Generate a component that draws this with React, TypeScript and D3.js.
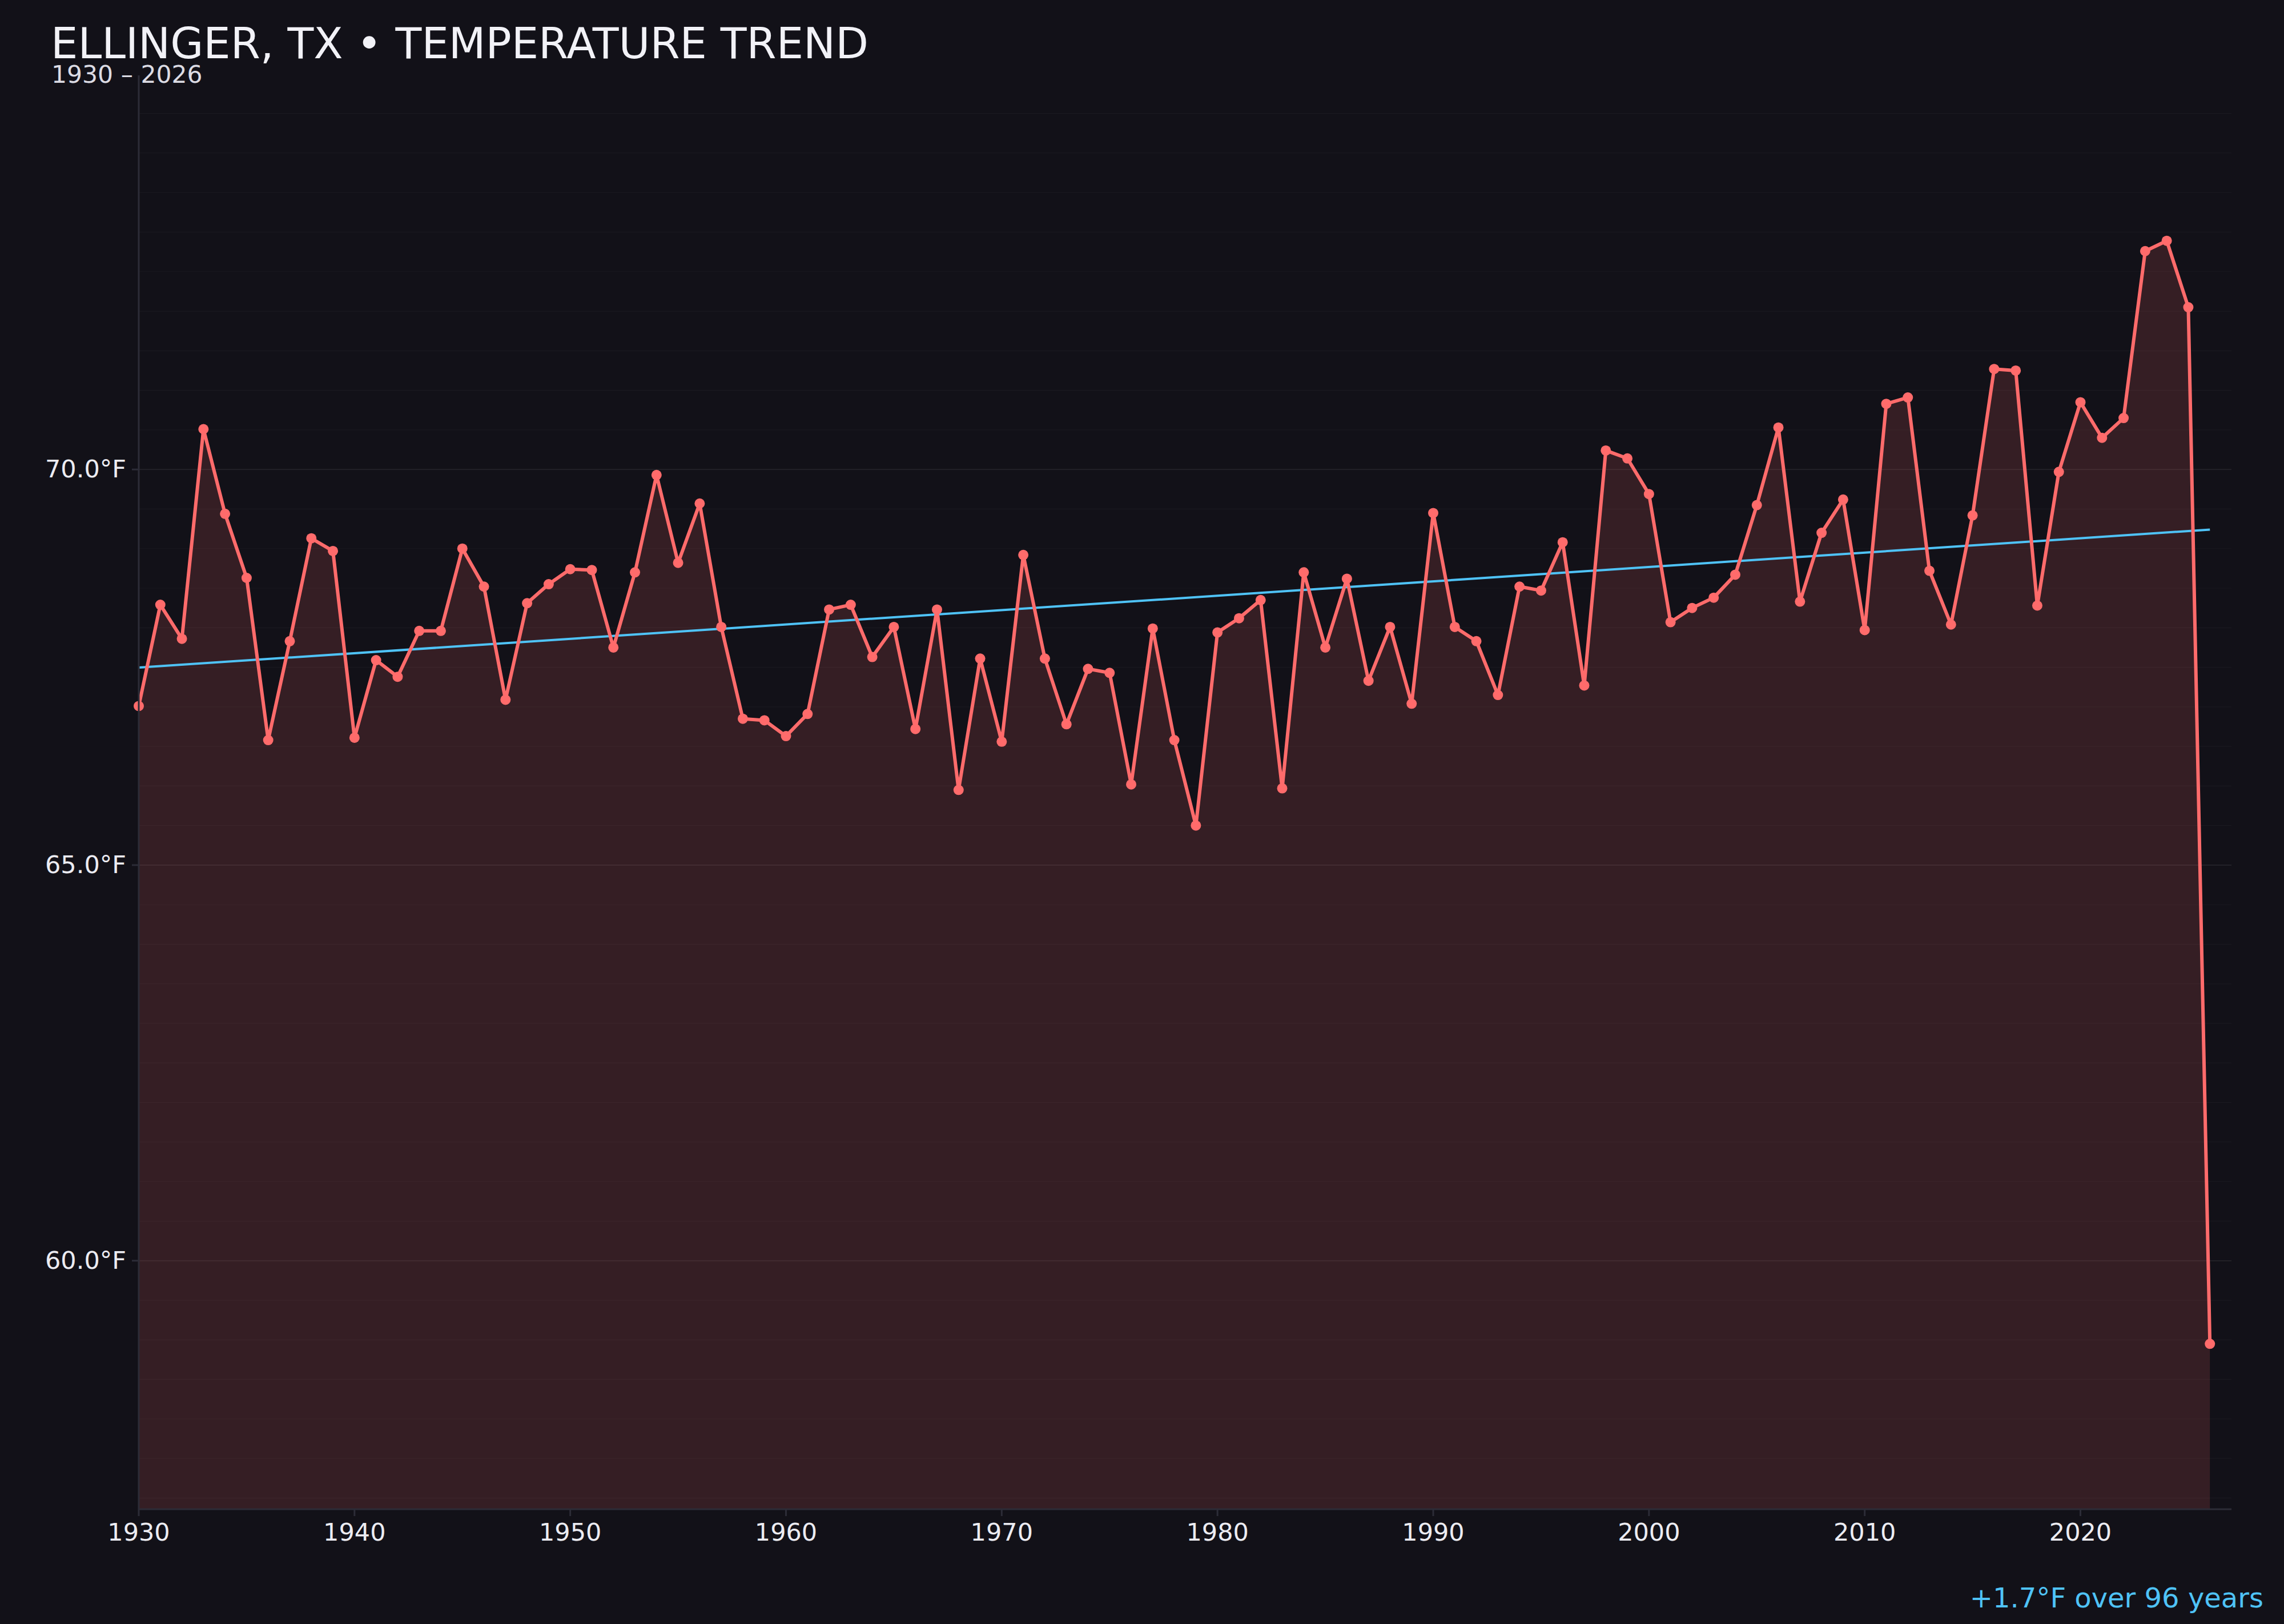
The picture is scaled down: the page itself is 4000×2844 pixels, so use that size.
import React from "react";
import * as d3 from "d3";

const years: number[] = d3.range(1930, 2027);
const temps: number[] = [
  67.01, 68.29, 67.86, 70.51, 69.44, 68.63, 66.58, 67.83, 69.13, 68.97,
  66.61, 67.59, 67.38, 67.96, 67.96, 69.0, 68.52, 67.09, 68.31, 68.55,
  68.74, 68.73, 67.75, 68.7, 69.93, 68.82, 69.57, 68.01, 66.85, 66.83,
  66.63, 66.91, 68.23, 68.29, 67.63, 68.01, 66.72, 68.23, 65.95, 67.61,
  66.56, 68.92, 67.61, 66.78, 67.48, 67.43, 66.02, 67.99, 66.58, 65.5,
  67.94, 68.12, 68.35, 65.97, 68.7, 67.75, 68.62, 67.33, 68.01, 67.04,
  69.45, 68.01, 67.83, 67.15, 68.52, 68.47, 69.08, 67.27, 70.24, 70.14,
  69.69, 68.07, 68.25, 68.38, 68.67, 69.55, 70.53, 68.33, 69.2, 69.62,
  67.97, 70.83, 70.91, 68.72, 68.04, 69.42, 71.27, 71.25, 68.28, 69.97,
  70.85, 70.4, 70.65, 72.76, 72.89, 72.05, 58.95,
];
const xTickYears: number[] = [1930, 1940, 1950, 1960, 1970, 1980, 1990, 2000, 2010, 2020];
const yTickValues: number[] = [60, 65, 70];

const TITLE = "ELLINGER, TX \u2022 TEMPERATURE TREND";
const SUBTITLE = "1930 \u2013 2026";
const ANNOTATION = "+1.7\u00B0F over 96 years";

const W = 4000;
const H = 2844;
const M = { left: 243, right: 92, top: 132, bottom: 201 };
const BG = "#121118";
const LINE = "#ff6b6b";
const TREND = "#4fc3f7";
const AXIS = "#2c2c37";
const TEXT = "#ececf2";
const FONT = "'DejaVu Sans', sans-serif";

export default function App() {
  const data = years.map((y, i) => ({ year: y, t: temps[i] }));
  const tMin = d3.min(temps) as number;
  const tMax = d3.max(temps) as number;
  const pad = (tMax - tMin) * 0.15;

  const x = d3.scaleLinear().domain([1930, 2027]).range([M.left, W - M.right]);
  const y = d3.scaleLinear().domain([tMin - pad, tMax + pad]).range([H - M.bottom, M.top]);

  const line = d3
    .line<{ year: number; t: number }>()
    .x((d) => x(d.year))
    .y((d) => y(d.t));
  const area = d3
    .area<{ year: number; t: number }>()
    .x((d) => x(d.year))
    .y0(y.range()[0])
    .y1((d) => y(d.t));

  // linear regression trend
  const xm = d3.mean(years) as number;
  const ym = d3.mean(temps) as number;
  let sxy = 0;
  let sxx = 0;
  years.forEach((yr, i) => {
    sxy += (yr - xm) * (temps[i] - ym);
    sxx += (yr - xm) * (yr - xm);
  });
  const slope = sxy / sxx;
  const icpt = ym - slope * xm;
  const y0 = years[0];
  const y1 = years[years.length - 1];

  const [d0, d1] = y.domain();
  const grid = d3.range(Math.ceil(d0 * 2) / 2, d1, 0.5);

  const bottom = H - M.bottom;
  const right = W - M.right;

  return (
    <svg
      width={W}
      height={H}
      style={{ position: "absolute", left: 0, top: 0, display: "block" }}
      fontFamily={FONT}
    >
      <rect x={0} y={0} width={W} height={H} fill={BG} />

      {grid.map((g) => {
        const major = Math.abs(g % 5) < 1e-9;
        return (
          <line
            key={g}
            x1={M.left}
            x2={right}
            y1={y(g)}
            y2={y(g)}
            stroke="#ffffff"
            strokeOpacity={major ? 0.075 : 0.035}
            strokeWidth={major ? 1.8 : 1.2}
          />
        );
      })}

      <path d={area(data) || ""} fill={LINE} fillOpacity={0.15} />

      <line
        x1={x(y0)}
        x2={x(y1)}
        y1={y(icpt + slope * y0)}
        y2={y(icpt + slope * y1)}
        stroke={TREND}
        strokeWidth={4}
      />

      <path d={line(data) || ""} fill="none" stroke={LINE} strokeWidth={6} strokeLinejoin="round" />
      {data.map((d) => (
        <circle key={d.year} cx={x(d.year)} cy={y(d.t)} r={9} fill={LINE} />
      ))}

      {/* axes */}
      <line x1={M.left} x2={M.left} y1={M.top} y2={bottom} stroke={AXIS} strokeWidth={3} />
      <line x1={M.left} x2={right} y1={bottom} y2={bottom} stroke={AXIS} strokeWidth={3} />
      {xTickYears.map((t) => (
        <g key={t} transform={`translate(${x(t)},${bottom})`}>
          <line y1={0} y2={12} stroke={AXIS} strokeWidth={3} />
          <text y={24} dy="0.71em" textAnchor="middle" fontSize={43} fill={TEXT}>
            {d3.format("d")(t)}
          </text>
        </g>
      ))}
      {yTickValues.map((t) => (
        <g key={t} transform={`translate(${M.left},${y(t)})`}>
          <line x1={0} x2={-12} stroke={AXIS} strokeWidth={3} />
          <text x={-22} dy="0.32em" textAnchor="end" fontSize={43} fill={TEXT}>
            {d3.format(".1f")(t) + "\u00B0F"}
          </text>
        </g>
      ))}

      <text x={89} y={102} fontSize={75} fill="#f2f2f7">
        {TITLE}
      </text>
      <text x={90} y={145} fontSize={42.5} fill="#dcdce4">
        {SUBTITLE}
      </text>
      <text x={3964} y={2815} textAnchor="end" fontSize={48} fill={TREND}>
        {ANNOTATION}
      </text>
    </svg>
  );
}
